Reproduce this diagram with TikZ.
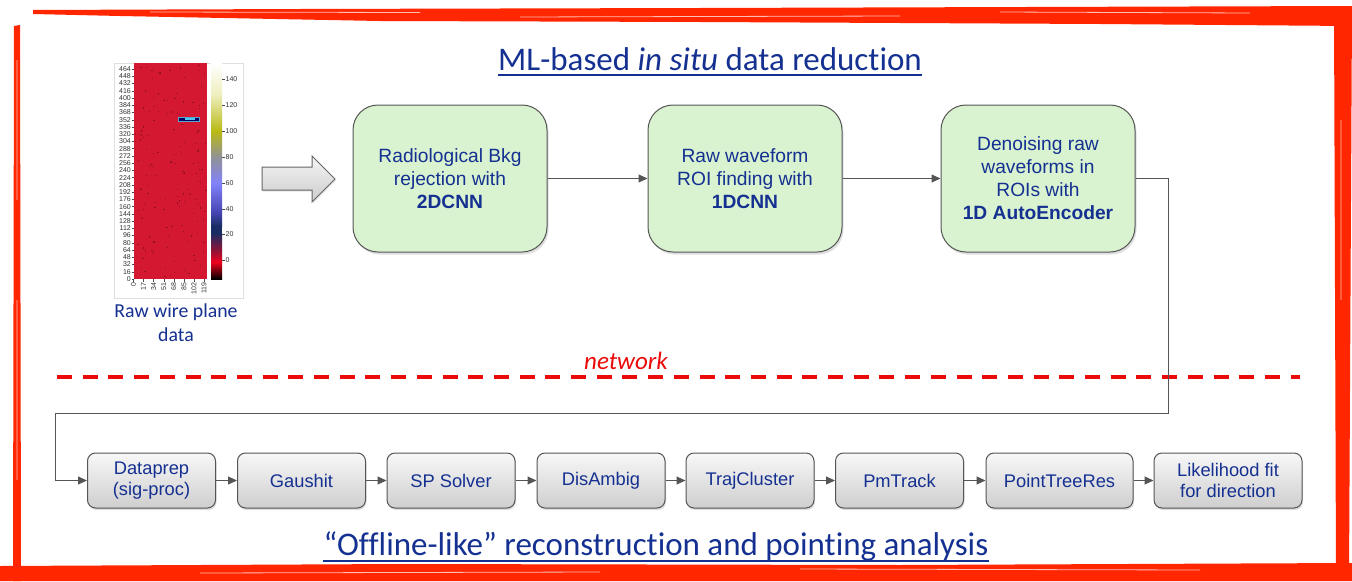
\documentclass[tikz,border=0pt]{standalone}
\usepackage{fontspec}
\setmainfont{Liberation Sans}
\newfontfamily\calib[Ligatures=NoCommon]{Carlito}
\usetikzlibrary{arrows.meta,shadows}
\definecolor{txt}{RGB}{20,48,145}
\definecolor{redb}{RGB}{255,38,0}
\definecolor{redd}{RGB}{235,10,10}
\definecolor{gbox}{RGB}{217,242,208}
\definecolor{edge}{RGB}{85,85,85}
\definecolor{hmred}{RGB}{212,24,50}
\definecolor{cbA}{RGB}{238,238,190}
\definecolor{cbB}{RGB}{185,185,20}
\definecolor{cbC}{RGB}{145,145,150}
\definecolor{cbD}{RGB}{130,130,250}
\definecolor{cbE}{RGB}{70,70,180}
\definecolor{cbF}{RGB}{25,45,100}
\definecolor{cbG}{RGB}{140,20,55}
\definecolor{cbH}{RGB}{240,0,30}
\tikzset{
  greenbox/.style={draw=edge, line width=1pt, fill=gbox, rounded corners=25pt,
    minimum width=194pt, minimum height=147pt, align=center, text=txt,
    font=\fontsize{19.2}{23}\selectfont,
    drop shadow={opacity=0.25, shadow xshift=1.5pt, shadow yshift=-2.5pt}},
  graybox/.style={draw=edge, line width=1pt, top color=gray!6, bottom color=gray!38,
    rounded corners=8pt, minimum height=55pt, align=center, text=txt,
    font=\fontsize{18.3}{21}\selectfont,
    drop shadow={opacity=0.25, shadow xshift=1pt, shadow yshift=-2pt}},
  conn/.style={draw=edge, line width=1pt, -{Triangle[length=9pt,width=8pt]}},
  ticklab/.style={font=\fontsize{7}{7}\selectfont, inner sep=0.5pt, text=black!80},
  ttl/.style={font=\calib\fontsize{33}{35}\selectfont, text=txt, inner sep=0pt}
}
\begin{document}
\begin{tikzpicture}[x=1pt,y=-1pt]
\useasboundingbox (0,0) rectangle (1352,581);
\fill[white] (0,0) rectangle (1352,581);

% ---- sketchy red frame ----
\fill[redb] (33,10) -- (300,9) -- (700,8) -- (1352,6) -- (1352,26) -- (1100,24) -- (700,22) -- (380,21) -- (120,16) -- (33,14) -- cycle;
\fill[redb] (1334,8) -- (1352,8) -- (1349,578) -- (1336,578) -- cycle;
\fill[redb] (0,566) -- (400,564) -- (900,565) -- (1352,563) -- (1352,581) -- (0,581) -- cycle;
\fill[redb] (14,26) -- (20,25) -- (21,581) -- (13,581) -- cycle;
\draw[white, line width=0.8pt, opacity=0.7] (150,12) -- (420,12.5) (520,17) -- (900,16) (1000,12) -- (1250,13) (200,573) -- (600,572) (800,569) -- (1200,570) (17,60) -- (17,200) (17,300) -- (17,480) (1341,120) -- (1341,300);

% ---- heatmap figure ----
\fill[white] (114,63) rectangle (243,298);
\draw[gray!25] (114,63) rectangle (243,298);
\fill[hmred] (134,63) rectangle (207,279);
\foreach \k in {1,...,140}{
  \pgfmathsetmacro{\rx}{134+rnd*72}
  \pgfmathsetmacro{\ry}{64+rnd*214}
  \fill[black!60!hmred, opacity=0.5] (\rx,\ry) rectangle ++(1.2,1.2);
}
\fill[blue!40!black] (178,117) rectangle (199,121);
\fill[cyan!70!white] (185,118) rectangle (195,120);
\draw[cyan!60!gray, line width=0.7pt] (178,117) rectangle (199,121);
% colorbar
\shade[top color=white, bottom color=cbA] (211,63) rectangle (222,95);
\shade[top color=cbA, bottom color=cbB] (211,95) rectangle (222,131);
\shade[top color=cbB, bottom color=cbC] (211,131) rectangle (222,157);
\shade[top color=cbC, bottom color=cbD] (211,157) rectangle (222,183);
\shade[top color=cbD, bottom color=cbE] (211,183) rectangle (222,212);
\shade[top color=cbE, bottom color=cbF] (211,212) rectangle (222,226);
\fill[cbF] (211,226) rectangle (222,233);
\shade[top color=cbF, bottom color=cbG] (211,233) rectangle (222,250);
\shade[top color=cbG, bottom color=cbH] (211,250) rectangle (222,262);
\shade[top color=cbH, bottom color=black] (211,262) rectangle (222,279);
% y tick labels
\foreach \i in {0,...,29}{
  \pgfmathtruncatemacro{\v}{16*\i}
  \pgfmathsetmacro{\yy}{279-7.24*\i}
  \draw[black!70, line width=0.4pt] (131.5,\yy) -- (134,\yy);
  \node[ticklab, anchor=east] (yl\i) at (131.5,\yy) {\v};
}
% x tick labels
\foreach \i in {0,...,7}{
  \pgfmathtruncatemacro{\v}{17*\i}
  \pgfmathsetmacro{\xx}{133.5+10.07*\i}
  \draw[black!70, line width=0.4pt] (\xx,279) -- (\xx,281.5);
  \node[ticklab, anchor=east, rotate=90] (xl\i) at (\xx,282) {\v};
}
% colorbar labels
\foreach \v/\yy in {140/79,120/105,100/131,80/157,60/183,40/209,20/234,0/260}{
  \draw[black!70, line width=0.4pt] (222,\yy) -- (224.5,\yy);
  \node[ticklab, anchor=west] (cl\v) at (225,\yy) {\v};
}
\node[font=\calib\fontsize{19.8}{24}\selectfont, text=txt, align=center, anchor=north] (rawlab) at (176,300) {Raw wire plane\\data};

% ---- big gray arrow ----
\shade[top color=gray!8, bottom color=gray!40, draw=gray!80!black, line width=1pt,
  drop shadow={opacity=0.2, shadow xshift=1pt, shadow yshift=-1.5pt}]
  (262,167) -- (312,167) -- (312,156) -- (335,179) -- (312,202) -- (312,190) -- (262,190) -- cycle;

% ---- titles ----
\node[ttl, anchor=base] (t1) at (710,70) {ML-based \textit{in situ} data reduction};
\draw[txt, line width=1.7pt] ([yshift=-5pt]t1.base west) -- ([yshift=-5pt]t1.base east);
\node[ttl, anchor=base] (t2) at (656,555) {“Offline-like” reconstruction and pointing analysis};
\draw[txt, line width=1.7pt] ([yshift=-6pt]t2.base west) -- ([yshift=-6pt]t2.base east);

% ---- green boxes ----
\node[greenbox] (b1) at (450,178.5) {Radiological Bkg\\rejection with\\\textbf{2DCNN}};
\node[greenbox] (b2) at (745,178.5) {Raw waveform\\ROI finding with\\\textbf{1DCNN}};
\node[greenbox] (b3) at (1038,178.5) {Denoising raw\\waveforms in\\ROIs with\\\textbf{1D AutoEncoder}};
\draw[conn] (b1) -- (b2);
\draw[conn] (b2) -- (b3);

% ---- network line ----
\draw[redd, line width=3.6pt, dash pattern=on 15pt off 10.7pt] (57,377) -- (1300,377);
\node[font=\calib\itshape\fontsize{25}{27}\selectfont, text=redd, anchor=base, inner sep=0pt] (net) at (626,369) {network};

% ---- gray boxes ----
\node[graybox, minimum width=128pt] (g1) at (151.5,480.5) {Dataprep\\(sig-proc)};
\node[graybox, minimum width=128pt] (g2) at (301.5,480.5) {Gaushit};
\node[graybox, minimum width=128pt] (g3) at (451,480.5) {SP Solver};
\node[graybox, minimum width=128pt] (g4) at (601,480.5) {DisAmbig};
\node[graybox, minimum width=128pt] (g5) at (750,480.5) {TrajCluster};
\node[graybox, minimum width=128pt] (g6) at (899.5,480.5) {PmTrack};
\node[graybox, minimum width=147pt] (g7) at (1059.5,480.5) {PointTreeRes};
\node[graybox, minimum width=148pt] (g8) at (1228,480.5) {Likelihood fit\\for direction};
\foreach \a/\b in {g1/g2,g2/g3,g3/g4,g4/g5,g5/g6,g6/g7,g7/g8}{
  \draw[conn] (\a) -- (\b);
}
\coordinate (c1) at (1168,178.5);
\coordinate (c2) at (1168,413);
\coordinate (c3) at (55,413);
\coordinate (c4) at (55,480.5);
\draw[conn] (b3.east) -- (c1) -- (c2) -- (c3) -- (c4) -- (g1.west);
\end{tikzpicture}
\end{document}
